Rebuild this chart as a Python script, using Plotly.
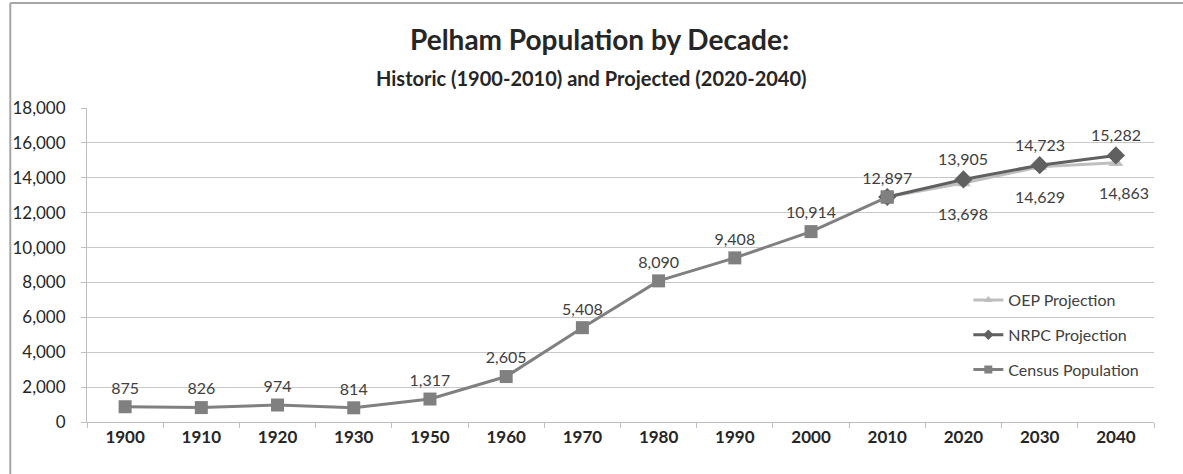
import plotly.graph_objects as go

# Decades shown on the category axis (1940 is not part of the series)
decades = ["1900", "1910", "1920", "1930", "1950", "1960", "1970",
           "1980", "1990", "2000", "2010", "2020", "2030", "2040"]

# Census counts, 1900-2010
census_years = decades[:11]
census_pop = [875, 826, 974, 814, 1317, 2605, 5408, 8090, 9408, 10914, 12897]

# Projections start from the 2010 census value
proj_years = ["2010", "2020", "2030", "2040"]
nrpc_pop = [12897, 13905, 14723, 15282]
oep_pop = [12897, 13698, 14629, 14863]

y_ticks = list(range(0, 18001, 2000))

FONT = "Lato, 'Open Sans', sans-serif"
LABEL_COLOR = "#404040"
DARK = "#262626"

C_CENSUS = "#808080"
C_NRPC = "#606060"
C_OEP = "#bfbfbf"

fig = go.Figure()

fig.add_trace(go.Scatter(
    x=census_years, y=census_pop, name="Census Population",
    mode="lines+markers+text",
    line=dict(color=C_CENSUS, width=3),
    marker=dict(symbol="square", size=13, color=C_CENSUS),
    texttemplate="%{y:,}", textposition="top center",
    textfont=dict(size=16, color=LABEL_COLOR, family=FONT),
    showlegend=False,
))

fig.add_trace(go.Scatter(
    x=proj_years, y=oep_pop, name="OEP Projection",
    mode="lines+markers",
    line=dict(color=C_OEP, width=3),
    marker=dict(symbol="triangle-up", size=13, color=C_OEP),
    showlegend=False,
))

fig.add_trace(go.Scatter(
    x=proj_years, y=nrpc_pop, name="NRPC Projection",
    mode="lines+markers",
    line=dict(color=C_NRPC, width=3),
    marker=dict(symbol="diamond", size=14, color=C_NRPC),
    showlegend=False,
))

# Redraw the 2010 census square on top of the projection starts
fig.add_trace(go.Scatter(
    x=census_years[-1:], y=census_pop[-1:], mode="markers",
    marker=dict(symbol="square", size=13, color=C_CENSUS),
    showlegend=False, hoverinfo="skip",
))

# Legend keys with small markers
legend_keys = [
    ("OEP Projection", C_OEP, "triangle-up", 1),
    ("NRPC Projection", C_NRPC, "diamond", 2),
    ("Census Population", C_CENSUS, "square", 3),
]
for name, color, symbol, rank in legend_keys:
    fig.add_trace(go.Scatter(
        x=[None], y=[None], name=name, mode="lines+markers",
        line=dict(color=color, width=3),
        marker=dict(symbol=symbol, size=8, color=color),
        legendrank=rank, legendgroup=name, hoverinfo="skip",
    ))

# Projection value labels: NRPC above its points, OEP below
# (category axis: annotations are placed by category index)
label_font = dict(size=16, color=LABEL_COLOR, family=FONT)
annotations = []
for yr, v in zip(proj_years[1:], nrpc_pop[1:]):
    annotations.append(dict(x=decades.index(yr), y=v, text=f"{v:,}",
                            showarrow=False, yshift=21, font=label_font))
oep_xshift = [0, 0, 8]
for (yr, v), dx in zip(zip(proj_years[1:], oep_pop[1:]), oep_xshift):
    annotations.append(dict(x=decades.index(yr), y=v, text=f"{v:,}",
                            showarrow=False, yshift=-30, xshift=dx, font=label_font))

annotations += [
    dict(text="<b>Pelham Population by Decade:</b>", x=0.48, y=1.22,
         xref="paper", yref="paper", xanchor="center", yanchor="middle",
         showarrow=False, font=dict(size=28, color=DARK, family=FONT)),
    dict(text="<b>Historic (1900-2010) and Projected (2020-2040)</b>", x=0.4725, y=1.0955,
         xref="paper", yref="paper", xanchor="center", yanchor="middle",
         showarrow=False, font=dict(size=20, color=DARK, family=FONT)),
]

fig.update_layout(
    width=1183, height=474,
    margin=dict(l=83, r=29, t=108, b=52),
    paper_bgcolor="white", plot_bgcolor="white",
    font=dict(family=FONT, color=LABEL_COLOR),
    showlegend=True,
    legend=dict(
        x=0.826, y=0.277, xanchor="left", yanchor="middle",
        font=dict(size=16, color=LABEL_COLOR, family=FONT),
        bgcolor="rgba(255,255,255,0)", tracegroupgap=11,
        itemwidth=30,
    ),
    annotations=annotations,
    shapes=[
        # outer frame: top and left edges
        dict(type="line", xref="paper", yref="paper",
             x0=-0.0719, x1=1.1, y0=1.3345, y1=1.3345,
             line=dict(color="#a6a6a6", width=2)),
        dict(type="line", xref="paper", yref="paper",
             x0=-0.0719, x1=-0.0719, y0=-0.2, y1=1.3345,
             line=dict(color="#a6a6a6", width=2)),
    ],
)

fig.update_xaxes(
    type="category", categoryorder="array", categoryarray=decades,
    range=[-0.5, len(decades) - 0.5],
    showline=True, linecolor="#bfbfbf", linewidth=1,
    ticks="outside", tickson="boundaries", ticklen=5, tickcolor="#bfbfbf",
    tickfont=dict(size=17, color=DARK, family=FONT),
    showgrid=False, zeroline=False,
    tickvals=decades, ticktext=[f"<b>{d}</b>" for d in decades],
)

fig.update_yaxes(
    range=[0, 18000], tickvals=y_ticks, tickformat=",",
    showline=True, linecolor="#bfbfbf", linewidth=1,
    ticks="outside", ticklen=5, tickcolor="#bfbfbf",
    ticklabelstandoff=12,
    showgrid=True, gridcolor="#c8c8c8", gridwidth=1,
    zeroline=False,
    tickfont=dict(size=17, color=DARK, family=FONT),
)

fig.write_html("out.html")
